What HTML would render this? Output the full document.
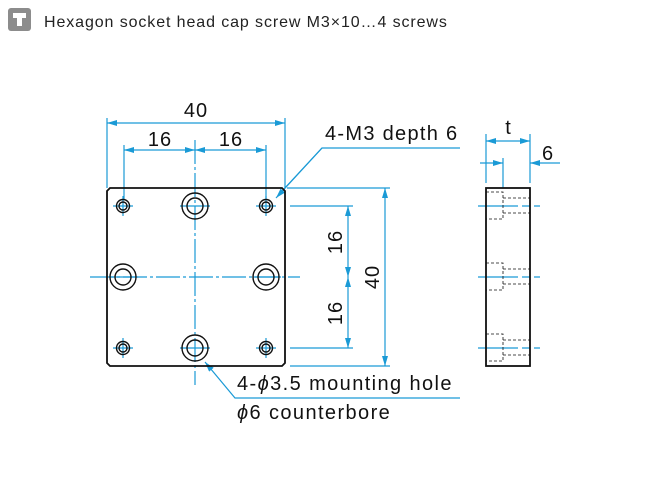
<!DOCTYPE html>
<html><head><meta charset="utf-8"><style>
body{margin:0;background:#fff;width:650px;height:500px;overflow:hidden}
svg{display:block}
</style></head><body>
<svg width="650" height="500" viewBox="0 0 650 500" font-family="Liberation Sans, sans-serif">
<defs>
<marker id="a" viewBox="0 0 10 6" refX="10" refY="3" markerWidth="11" markerHeight="6" orient="auto-start-reverse" markerUnits="userSpaceOnUse"><path d="M0,0L10,3L0,6z" fill="#1a9ad6"/></marker>
</defs>
<rect x="8" y="8" width="23" height="23" rx="3" fill="#8c8c8c"/>
<path d="M13,13h13v5h-4v8h-5v-8h-4z" fill="#fff"/>
<text x="44" y="27" font-size="16" fill="#222" letter-spacing="0.9">Hexagon socket head cap screw M3×10…4 screws</text>

<g stroke="#1a9ad6" stroke-width="1.2" fill="none">
<path d="M90,277H300M195,140V385" stroke-dasharray="24,3,3,3"/>
<path d="M113,206h20M256,206h20M113,348h20M256,348h20M123,196v20M266,196v20M123,338v20M266,338v20M180,206h30M180,348h30M110,277h28M253,277h28"/>
<path d="M107,118V188M285,118V188M124,145V200M266,145V200"/>
<path d="M107,123H285" marker-start="url(#a)" marker-end="url(#a)"/>
<path d="M124,150H195" marker-start="url(#a)" marker-end="url(#a)"/>
<path d="M195,150H266" marker-start="url(#a)" marker-end="url(#a)"/>
<path d="M287,188H390M290,366H390M290,206H353M290,348H353"/>
<path d="M385,188V366" marker-start="url(#a)" marker-end="url(#a)"/>
<path d="M348,206V277" marker-start="url(#a)" marker-end="url(#a)"/>
<path d="M348,277V348" marker-start="url(#a)" marker-end="url(#a)"/>
<path d="M460,148H322L283,190" />
<path d="M322,148L276,198" marker-end="url(#a)"/>
<path d="M460,398H235L205,362" marker-end="url(#a)"/>
<path d="M486,134V183M530,134V183M503,158V188"/>
<path d="M486,141H530" marker-start="url(#a)" marker-end="url(#a)"/>
<path d="M480,163H503" marker-end="url(#a)"/>
<path d="M560,163H530" marker-end="url(#a)"/>
<path d="M478,206H540M478,277H540M478,348H540" stroke-dasharray="40,4,8,4"/>
</g>

<g fill="none" stroke="#111">
<path d="M110,188H282L285,191V363L282,366H110L107,363V191Z" stroke-width="1.8"/>
<g stroke-width="1.4">
<circle cx="123" cy="206" r="6.5"/><circle cx="123" cy="206" r="4"/>
<circle cx="266" cy="206" r="6.5"/><circle cx="266" cy="206" r="4"/>
<circle cx="123" cy="348" r="6.5"/><circle cx="123" cy="348" r="4"/>
<circle cx="266" cy="348" r="6.5"/><circle cx="266" cy="348" r="4"/>
<circle cx="195" cy="206" r="13"/><circle cx="195" cy="206" r="8"/>
<circle cx="195" cy="348" r="13"/><circle cx="195" cy="348" r="8"/>
<circle cx="123" cy="277" r="13"/><circle cx="123" cy="277" r="8"/>
<circle cx="266" cy="277" r="13"/><circle cx="266" cy="277" r="8"/>
</g>
<rect x="486" y="188" width="44" height="178" stroke-width="1.8"/>
<g stroke-width="0.8" stroke-dasharray="3,2">
<path d="M486,192H503V219H486M503,198H530M503,213H530"/>
<path d="M486,263H503V290H486M503,269H530M503,284H530"/>
<path d="M486,334H503V361H486M503,340H530M503,355H530"/>
</g>
</g>

<g fill="#111" font-size="20">
<text x="196" y="117" text-anchor="middle" letter-spacing="1">40</text>
<text x="160" y="146" text-anchor="middle" letter-spacing="1">16</text>
<text x="231" y="146" text-anchor="middle" letter-spacing="1">16</text>
<text x="325" y="140" letter-spacing="1.3">4-M3 depth 6</text>
<text x="508" y="134" text-anchor="middle">t</text>
<text x="542" y="160">6</text>
<text transform="translate(342,242) rotate(-90)" text-anchor="middle" letter-spacing="1">16</text>
<text transform="translate(342,313) rotate(-90)" text-anchor="middle" letter-spacing="1">16</text>
<text transform="translate(379,277) rotate(-90)" text-anchor="middle" letter-spacing="1">40</text>
<text x="237" y="390" letter-spacing="1.4">4-<tspan font-style="italic">ϕ</tspan>3.5 mounting hole</text>
<text x="237" y="419" letter-spacing="1.4"><tspan font-style="italic">ϕ</tspan>6 counterbore</text>
</g>
</svg>
</body></html>
